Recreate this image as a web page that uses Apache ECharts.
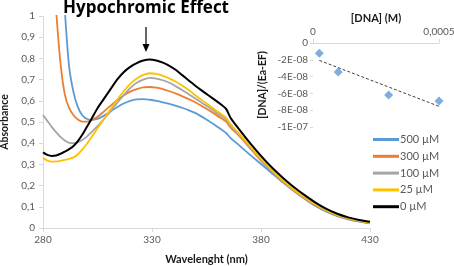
<!DOCTYPE html>
<html><head><meta charset="utf-8">
<script src="https://cdn.jsdelivr.net/npm/echarts@6/dist/echarts.min.js"></script>
<style>html,body{margin:0;padding:0;background:#fff}#c{width:454px;height:266px}</style>
</head><body><div id="c"></div>
<script>
const wavelengths = [280,282,284,286,288,290,292,294,296,298,300,302,305,308,311,314,317,320,323,326,329,332,335,338,341,344,347,350,354,358,362,364,366,370,375,380,385,390,395,400,405,410,415,420,425,430];
const abs500 = [null,null,null,null,null,1.03,0.76,0.64,0.57,0.532,0.515,0.51,0.515,0.53,0.55,0.57,0.587,0.6,0.607,0.608,0.605,0.6,0.593,0.585,0.576,0.566,0.555,0.542,0.518,0.492,0.463,0.448,0.425,0.39,0.345,0.302,0.258,0.215,0.175,0.138,0.104,0.077,0.056,0.041,0.03,0.022];
const abs300 = [null,null,null,1.03,0.78,0.63,0.565,0.532,0.512,0.502,0.502,0.508,0.525,0.55,0.577,0.603,0.625,0.643,0.655,0.663,0.665,0.662,0.655,0.645,0.634,0.621,0.607,0.592,0.568,0.543,0.516,0.502,0.475,0.434,0.376,0.318,0.265,0.218,0.176,0.139,0.106,0.079,0.058,0.043,0.032,0.024];
const abs100 = [0.533,0.505,0.477,0.452,0.43,0.413,0.402,0.4,0.405,0.415,0.43,0.45,0.48,0.515,0.55,0.59,0.627,0.66,0.685,0.7,0.708,0.705,0.697,0.685,0.668,0.65,0.63,0.61,0.583,0.555,0.527,0.512,0.483,0.44,0.38,0.322,0.268,0.22,0.178,0.141,0.108,0.081,0.06,0.044,0.033,0.025];
const abs25 = [0.33,0.318,0.313,0.314,0.317,0.321,0.326,0.333,0.348,0.37,0.395,0.425,0.47,0.515,0.56,0.605,0.645,0.68,0.705,0.722,0.73,0.727,0.718,0.705,0.69,0.67,0.65,0.625,0.595,0.565,0.535,0.52,0.49,0.445,0.385,0.327,0.273,0.225,0.182,0.145,0.112,0.084,0.062,0.046,0.034,0.026];
const abs0 = [0.357,0.345,0.34,0.342,0.35,0.36,0.372,0.387,0.41,0.44,0.475,0.51,0.565,0.61,0.655,0.7,0.735,0.76,0.778,0.79,0.795,0.79,0.78,0.765,0.745,0.72,0.695,0.67,0.64,0.61,0.58,0.562,0.52,0.465,0.4,0.34,0.285,0.237,0.193,0.155,0.12,0.09,0.067,0.05,0.038,0.03];
const seriesNames = ['500 µM','300 µM','100 µM','25 µM','0 µM'];
const dnaConc = [0.000025, 0.0001, 0.0003, 0.0005];
const dnaRatio = [-1.23e-8, -3.45e-8, -6.2e-8, -6.9e-8];

const colors = ['#5b9bd5','#ed7d31','#a5a5a5','#ffc000','#000000'];
const allAbs = [abs500, abs300, abs100, abs25, abs0];

// linear trendline (least squares) from inset data
const n = dnaConc.length;
const mx = dnaConc.reduce((a,b)=>a+b,0)/n, my = dnaRatio.reduce((a,b)=>a+b,0)/n;
let sxy=0, sxx=0;
for (let i=0;i<n;i++){ sxy += (dnaConc[i]-mx)*(dnaRatio[i]-my); sxx += (dnaConc[i]-mx)**2; }
const slope = sxy/sxx, icpt = my - slope*mx;
const xMin = Math.min(...dnaConc), xMax = Math.max(...dnaConc);
const trend = [[xMin, icpt+slope*xMin],[xMax, icpt+slope*xMax]];

function sci(v){
  if (Math.abs(v) < 1e-15) return '0';
  const e = Math.floor(Math.log10(Math.abs(v)) + 1e-9);
  const m = Math.round(v/Math.pow(10,e));
  return m + 'E' + (e<0?'-':'+') + String(Math.abs(e)).padStart(2,'0');
}

const lbl = {color:'#595959', fontSize:10, fontFamily:'Lato'};
const axName = {color:'#1a1a1a', fontSize:11, fontWeight:'bold', fontFamily:'Lato'};

const series = allAbs.map((arr,i)=>({
  name: seriesNames[i], type:'line', xAxisIndex:0, yAxisIndex:0,
  data: wavelengths.map((w,j)=>[w, arr[j]]),
  showSymbol:false, symbol:'none', smooth:0.3, clip:true,
  lineStyle:{color:colors[i], width: i===4 ? 2 : 1.8},
  itemStyle:{color:colors[i]}, z: 2+i
}));
series.push({
  type:'line', xAxisIndex:1, yAxisIndex:1, data: trend, symbol:'none',
  lineStyle:{color:'#404040', width:1, type:[3,2]}, z:10
});
series.push({
  type:'scatter', xAxisIndex:1, yAxisIndex:1,
  data: dnaConc.map((x,i)=>[x, dnaRatio[i]]),
  symbol:'diamond', symbolSize:9, itemStyle:{color:'#5b9bd5'}, z:11
});

const chart = echarts.init(document.getElementById('c'), null, {renderer:'canvas'});
chart.setOption({
  animation:false,
  grid:[
    {left:43, right:84, top:16, bottom:38, containLabel:false, outerBoundsMode:'none'},
    {left:313, right:15, top:43, height:84, containLabel:false, outerBoundsMode:'none'}
  ],
  xAxis:[
    {type:'value', gridIndex:0, min:280, max:430, interval:50,
     axisLine:{show:true, lineStyle:{color:'#d9d9d9', width:1}},
     axisTick:{show:true, length:4, lineStyle:{color:'#d9d9d9'}},
     splitLine:{show:false}, axisLabel:{...lbl, margin:7},
     name:'Wavelenght (nm)', nameLocation:'middle', nameGap:26, nameTextStyle:axName},
    {type:'value', gridIndex:1, position:'top', min:0, max:0.0005, interval:0.0005,
     axisLine:{show:true, onZero:false, lineStyle:{color:'#d9d9d9', width:1}},
     axisTick:{show:true, length:4, lineStyle:{color:'#d9d9d9'}},
     splitLine:{show:false},
     axisLabel:{...lbl, margin:6, formatter:v=> v===0 ? '0' : String(v).replace('.',',')},
     name:'[DNA] (M)', nameLocation:'middle', nameGap:19, nameTextStyle:axName}
  ],
  yAxis:[
    {type:'value', gridIndex:0, min:0, max:1, interval:0.1,
     axisLine:{show:true, lineStyle:{color:'#d9d9d9', width:1}},
     axisTick:{show:true, length:4, lineStyle:{color:'#d9d9d9'}},
     splitLine:{show:false},
     axisLabel:{...lbl, margin:8, formatter:v=>{const r=Math.round(v*10)/10; return r===0?'0':String(r).replace('.',',');}},
     name:'Absorbance', nameLocation:'middle', nameGap:31, nameTextStyle:{...axName, fontSize:10.5}},
    {type:'value', gridIndex:1, min:-1e-7, max:0, interval:2e-8,
     axisLine:{show:false},
     axisTick:{show:true, length:3, lineStyle:{color:'#d9d9d9'}},
     splitLine:{show:false},
     axisLabel:{...lbl, margin:5, formatter:sci},
     name:'[DNA]/(Ea-EF)', nameLocation:'middle', nameGap:45, nameTextStyle:{...axName, fontSize:10.5}}
  ],
  legend:{
    data: seriesNames, orient:'vertical', left:368, top:128,
    icon:'rect', itemWidth:26, itemHeight:3, itemGap:3.8,
    textStyle:{color:'#595959', fontSize:11, fontFamily:'Lato', lineHeight:13, padding:[0,0,0,-4]}
  },
  graphic:[
    {type:'text', x:146, y:0, style:{text:'Hypochromic Effect', align:'center', verticalAlign:'top', fill:'#000', font:'bold 17px "Open Sans"'}},
    {type:'line', shape:{x1:146, y1:27, x2:146, y2:46}, style:{stroke:'#000', lineWidth:1.2}},
    {type:'polygon', shape:{points:[[142.5,44],[149.5,44],[146,52]]}, style:{fill:'#000'}}
  ],
  series
});
</script>
</body></html>
